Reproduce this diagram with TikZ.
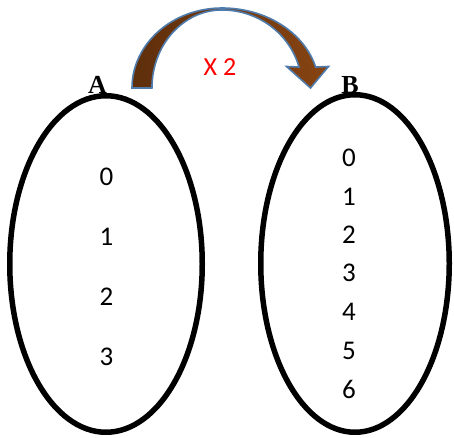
\documentclass[tikz,border=0pt]{standalone}
\usepackage{fontspec}
\setmainfont{Carlito}
\newfontfamily\serifb{Liberation Serif}
\usetikzlibrary{shapes.geometric}
\definecolor{arrowdark}{HTML}{5E2E0B}
\definecolor{arrowlight}{HTML}{874412}
\definecolor{arrowedge}{HTML}{4F7CAC}
\begin{document}
\begin{tikzpicture}[x=1pt,y=1pt,
  num/.style={font=\fontsize{27}{27}\selectfont, inner sep=0pt},
  setlabel/.style={font=\serifb\bfseries\fontsize{26}{26}\selectfont, inner sep=0pt, anchor=base},
  setoval/.style={ellipse, draw=black, line width=5.5pt, inner sep=0pt},
  blockarrow/.style={left color=arrowdark, right color=arrowlight, draw=arrowedge, line width=1.6pt, line join=miter}]
\useasboundingbox (0,0) rectangle (454,437);
% set labels (partly hidden by the ovals)
\node[setlabel] (labA) at (97.5,343) {A};
\node[setlabel] (labB) at (350,343) {B};
% ovals
\node[setoval, minimum width=192.5pt, minimum height=336.5pt] (setA) at (106,173) {};
\node[setoval, minimum width=188.5pt, minimum height=337.5pt] (setB) at (355,173.5) {};
% elements of A
\node[num] (a0) at (106.5,260) {0};
\node[num] (a1) at (106.5,200) {1};
\node[num] (a2) at (106.5,140) {2};
\node[num] (a3) at (106.5,80) {3};
% elements of B
\node[num] (b0) at (349,279) {0};
\node[num] (b1) at (349,240) {1};
\node[num] (b2) at (349,202) {2};
\node[num] (b3) at (349,164) {3};
\node[num] (b4) at (349,125) {4};
\node[num] (b5) at (349,86) {5};
\node[num] (b6) at (349,48) {6};
% curved block arrow
\shadedraw[blockarrow]
  (132,349) arc[start angle=180, end angle=90, x radius=90, y radius=80]
  arc[start angle=90, end angle=15.2, x radius=97, y radius=80]
  -- (328.5,370.5) -- (310.5,349) -- (286.5,370.5) -- (299,370)
  arc[start angle=15.6, end angle=90, x radius=80, y radius=78]
  arc[start angle=90, end angle=180, x radius=70, y radius=78]
  -- cycle;
\node[font=\fontsize{26}{26}\selectfont, text=red, inner sep=0pt] (times) at (220,370) {X 2};
\end{tikzpicture}
\end{document}
